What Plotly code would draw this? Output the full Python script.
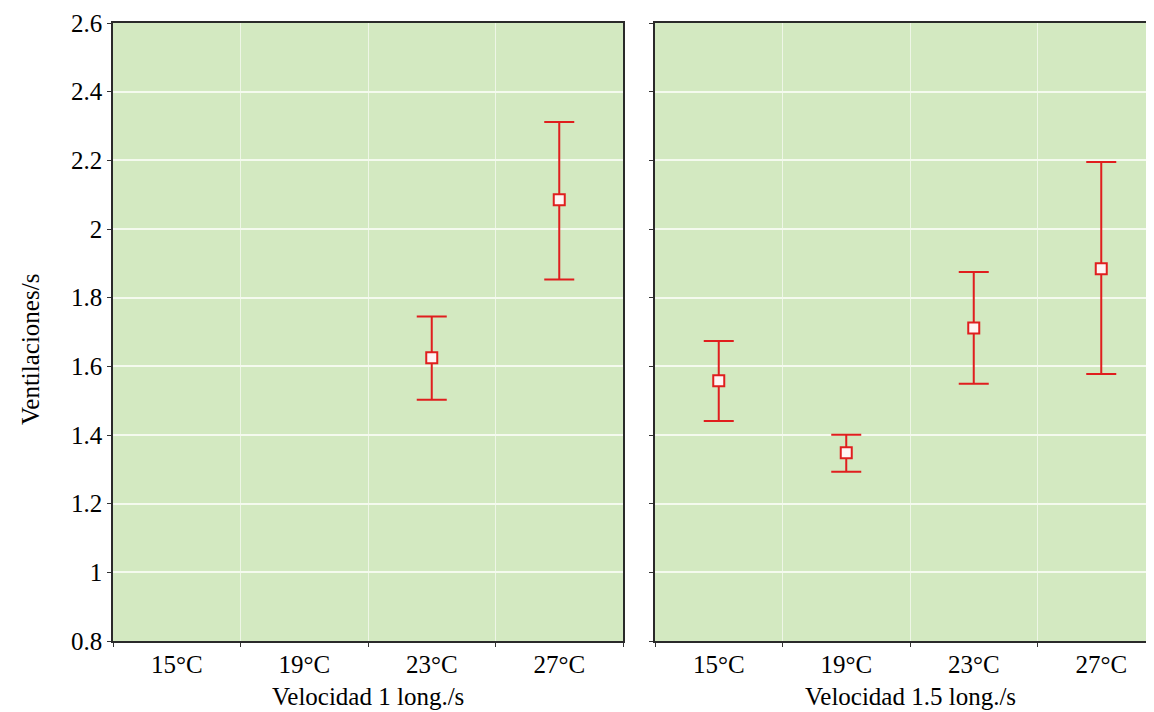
import plotly.graph_objects as go

W, H = 1154, 712
OFF = 8  # page body margin offset in the browser

categories = ["15°C", "19°C", "23°C", "27°C"]

# Panel 1: Velocidad 1 long./s
p1_cats = ["23°C", "27°C"]
p1_mean = [1.625, 2.085]
p1_upper = [1.745, 2.312]
p1_lower = [1.503, 1.853]

# Panel 2: Velocidad 1.5 long./s
p2_cats = ["15°C", "19°C", "23°C", "27°C"]
p2_mean = [1.558, 1.348, 1.712, 1.884]
p2_upper = [1.674, 1.401, 1.875, 2.195]
p2_lower = [1.441, 1.293, 1.549, 1.578]

y_ticks = [0.8, 1, 1.2, 1.4, 1.6, 1.8, 2, 2.2, 2.4, 2.6]
y_ticktext = ["0.8", "1", "1.2", "1.4", "1.6", "1.8", "2", "2.2", "2.4", "2.6"]

RED = "#e01e1e"
FONT = "Liberation Serif, Times New Roman, serif"


def trace(cats, mean, upper, lower, xa, ya):
    return go.Scatter(
        x=cats, y=mean, xaxis=xa, yaxis=ya, mode="markers",
        marker=dict(symbol="square", size=11, color="#fff4f4",
                    line=dict(color=RED, width=2)),
        error_y=dict(type="data", symmetric=False,
                     array=[u - m for u, m in zip(upper, mean)],
                     arrayminus=[m - l for m, l in zip(mean, lower)],
                     color=RED, thickness=2, width=15),
        showlegend=False, hoverinfo="skip",
    )


def px(x):
    return (x - OFF) / W


def py(y):
    return 1 - (y - OFF) / H


fig = go.Figure()
fig.add_trace(trace(p1_cats, p1_mean, p1_upper, p1_lower, "x", "y"))
fig.add_trace(trace(p2_cats, p2_mean, p2_upper, p2_lower, "x2", "y2"))

ydom = [py(641), py(23)]
x1dom = [px(113), px(623)]
x2dom = [px(655), 1.0]
cat_w = (623 - 113) / 4.0
x2_end = -0.5 + (W - (655 - OFF)) / cat_w

common_x = dict(
    type="category", categoryorder="array", categoryarray=categories,
    tickson="boundaries", ticks="outside", ticklen=4, tickcolor="#333",
    showgrid=True, gridcolor="#eef6e6", gridwidth=1.2,
    showline=True, linecolor="#2a2a2a", linewidth=1.5, mirror=True,
    tickfont=dict(family=FONT, size=25, color="black"),
    zeroline=False, fixedrange=True, automargin=False,
)
common_y = dict(
    range=[0.8, 2.6], tickvals=y_ticks, ticktext=y_ticktext,
    ticks="outside", ticklen=4, tickcolor="#333",
    showgrid=True, gridcolor="#f4faee", gridwidth=1.5,
    showline=True, linecolor="#2a2a2a", linewidth=1.5,
    tickfont=dict(family=FONT, size=25, color="black"),
    zeroline=False, domain=ydom, automargin=False, fixedrange=True,
)

fig.update_layout(
    width=W, height=H,
    margin=dict(l=0, r=0, t=0, b=0, autoexpand=False),
    paper_bgcolor="white",
    plot_bgcolor="#d3e9c1",
    xaxis=dict(common_x, domain=x1dom, range=[-0.5, 3.5], anchor="y"),
    yaxis=dict(common_y, anchor="x", mirror=True, showticklabels=True),
    xaxis2=dict(common_x, domain=x2dom, range=[-0.5, x2_end], anchor="y2"),
    yaxis2=dict(common_y, anchor="x2", mirror=False, showticklabels=False),
    annotations=[
        dict(text="Ventilaciones/s", x=px(30), y=py(350), xref="paper", yref="paper",
             textangle=-90, showarrow=False, xanchor="center", yanchor="middle",
             font=dict(family=FONT, size=25, color="black")),
        dict(text="Velocidad 1 long./s", x=px(368), y=py(696), xref="paper", yref="paper",
             showarrow=False, xanchor="center", yanchor="middle",
             font=dict(family=FONT, size=25, color="black")),
        dict(text="Velocidad 1.5 long./s", x=px(910), y=py(696), xref="paper", yref="paper",
             showarrow=False, xanchor="center", yanchor="middle",
             font=dict(family=FONT, size=25, color="black")),
    ],
)

fig.write_html("out.html")
